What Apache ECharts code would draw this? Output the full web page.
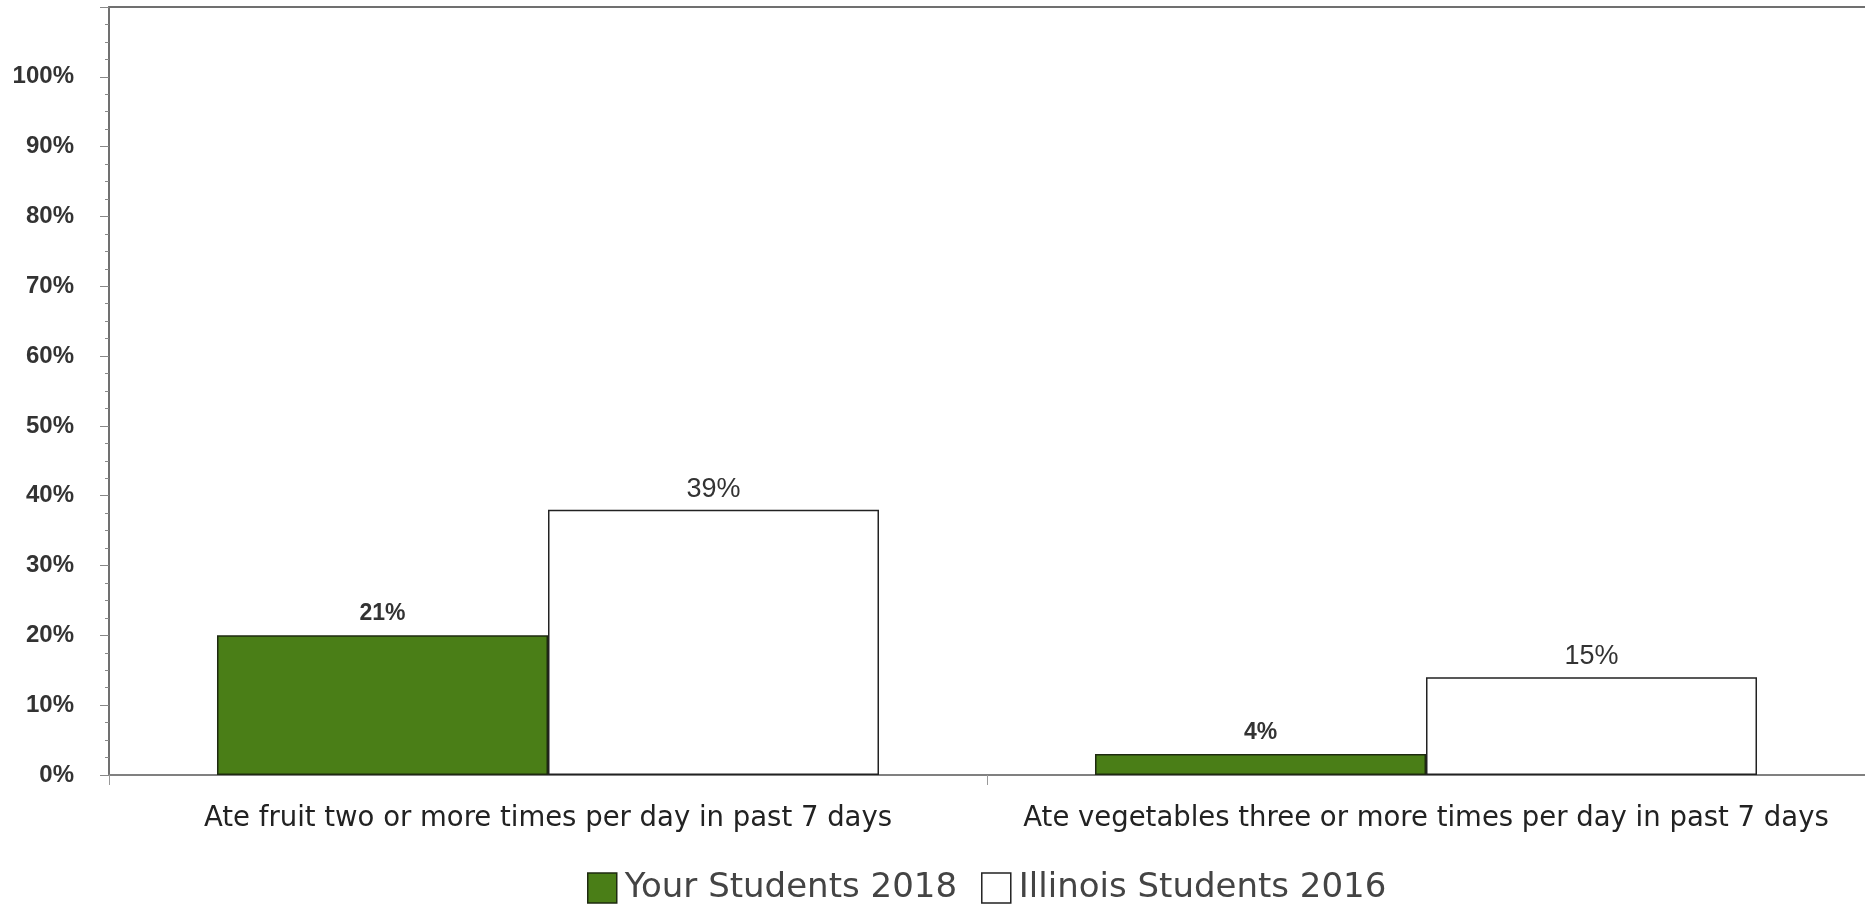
<!DOCTYPE html>
<html>
<head>
<meta charset="utf-8">
<script src="https://cdn.jsdelivr.net/npm/echarts@6/dist/echarts.min.js"></script>
<style>
html,body{margin:0;padding:0;background:#fff;}
#chart{width:1865px;height:904px;}
</style>
</head>
<body>
<div id="chart"></div>
<script>
const categories = [
  'Ate fruit two or more times per day in past 7 days',
  'Ate vegetables three or more times per day in past 7 days'
];
const seriesNames = ['Your Students 2018', 'Illinois Students 2016'];
const yourStudents = [20, 3];
const illinoisStudents = [38, 14];
const yourLabels = ['21%', '4%'];
const illinoisLabels = ['39%', '15%'];

const chart = echarts.init(document.getElementById('chart'), null, {renderer: 'canvas'});

const option = {
  animation: false,
  backgroundColor: '#ffffff',
  grid: {left: 109, right: 0, top: 7, bottom: 129, containLabel: false},
  legend: {
    data: [
      {name: seriesNames[0], itemStyle: {color: '#4a7e17', borderColor: '#1e2a10', borderWidth: 1.5}},
      {name: seriesNames[1], itemStyle: {color: '#ffffff', borderColor: '#222222', borderWidth: 1.5}}
    ],
    left: 582,
    top: 866,
    icon: 'rect',
    itemWidth: 29,
    itemHeight: 30,
    itemGap: 24,
    textStyle: {fontFamily: 'DejaVu Sans', fontSize: 34, color: '#444444', padding: [0, 0, 0, 3]}
  },
  xAxis: [
    {
      type: 'category',
      data: categories,
      axisLine: {show: true, lineStyle: {color: '#808080', width: 2}},
      axisTick: {show: true, length: 10, alignWithLabel: false, lineStyle: {color: '#999999', width: 1}},
      axisLabel: {fontFamily: 'DejaVu Sans', fontSize: 27.5, color: '#222222', margin: 30, interval: 0}
    },
    {
      type: 'category',
      data: categories,
      position: 'top',
      axisLine: {show: true, lineStyle: {color: '#707070', width: 2}},
      axisTick: {show: false},
      axisLabel: {show: false}
    }
  ],
  yAxis: {
    type: 'value',
    min: 0,
    max: 110,
    interval: 10,
    axisLine: {show: true, lineStyle: {color: '#707070', width: 2}},
    axisTick: {show: true, length: 9, lineStyle: {color: '#888888', width: 1}},
    minorTick: {show: true, splitNumber: 4, length: 4, lineStyle: {color: '#888888', width: 1}},
    splitLine: {show: false},
    axisLabel: {
      fontFamily: 'Liberation Sans', fontSize: 24, fontWeight: 'bold', color: '#333333', margin: 35,
      formatter: v => (v > 100 ? '' : v + '%')
    }
  },
  series: [
    {
      name: seriesNames[0],
      type: 'bar',
      data: yourStudents,
      barGap: '0%',
      barCategoryGap: '24.6%',
      itemStyle: {color: '#4a7e17', borderColor: '#1e2a10', borderWidth: 1.5},
      label: {
        show: true, position: 'top', distance: 10,
        fontFamily: 'Liberation Sans', fontSize: 23, fontWeight: 'bold', color: '#333333',
        formatter: p => yourLabels[p.dataIndex]
      }
    },
    {
      name: seriesNames[1],
      type: 'bar',
      data: illinoisStudents,
      barGap: '0%',
      barCategoryGap: '24.6%',
      itemStyle: {color: '#ffffff', borderColor: '#222222', borderWidth: 1.5},
      label: {
        show: true, position: 'top', distance: 7,
        fontFamily: 'Liberation Sans', fontSize: 27, color: '#333333',
        formatter: p => illinoisLabels[p.dataIndex]
      }
    }
  ]
};
chart.setOption(option);
</script>
</body>
</html>
